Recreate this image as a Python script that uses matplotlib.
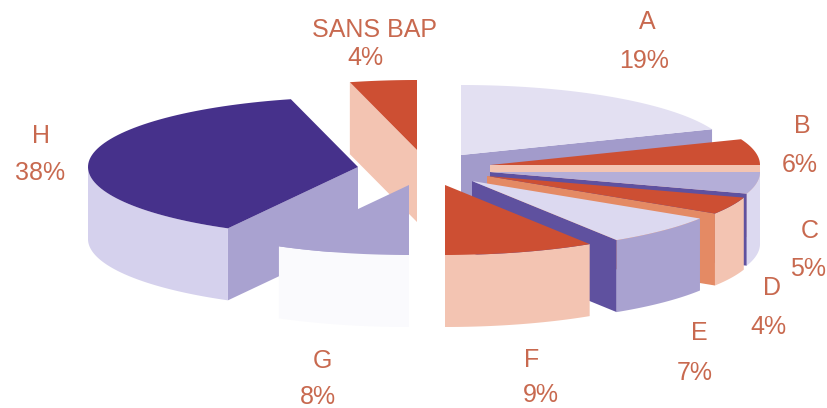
import numpy as np
import matplotlib
matplotlib.use("Agg")
import matplotlib.pyplot as plt

plt.rcParams['font.family'] = ['Liberation Sans', 'DejaVu Sans']

names = ['A', 'B', 'C', 'D', 'E', 'F', 'G', 'H', 'SANS BAP']
values = [19, 6, 5, 4, 7, 9, 8, 38, 4]

# slice apex in pixels (exploded pie, every slice moved by hand in the original)
apex = [(461, 155), (490, 165), (490, 172), (487, 176), (472, 181),
        (445, 185), (409, 185), (358, 167), (417, 150)]
top_col = ['#e3e0f2', '#cd4f33', '#b4aed8', '#cd4f33', '#dcd9f0',
           '#cd4f33', '#a9a2d0', '#46318b', '#cd4f33']
cut_col = ['#a29bcb', '#f3c4b2', '#5f519f', '#e48a64', '#5f519f',
           '#f3c4b2', '#a9a2d0', '#a9a2d0', '#f3c4b2']
rim_col = ['#dcd9f0', '#f3c4b2', '#dcd9f0', '#f3c4b2', '#a9a2d0',
           '#f3c4b2', '#fafafd', '#d5d1ed', '#f3c4b2']

# label positions, name then percent
name_pos = [(647, 22), (802, 126), (810, 231), (772, 288), (699, 333),
            (532, 360), (322, 361), (41, 136), (374, 30)]
pct_pos = [(644, 61), (800, 165), (808, 269), (768, 327), (695, 373),
           (541, 395), (318, 397), (40, 173), (365, 58)]

rx, ry = 270, 70
depth = 72
text_col = '#c8694f'

fig = plt.figure(figsize=(8.27, 4.08), dpi=100)
ax = fig.add_axes([0, 0, 1, 1])
ax.set_xlim(0, 827)
ax.set_ylim(408, 0)
ax.axis('off')


def arc(c, t0, t1):
    # t is clockwise from north, in degrees
    t = np.radians(np.linspace(t0, t1, 80))
    return c[0] + rx * np.sin(t), c[1] - ry * np.cos(t)


def cut(c, t, color):
    x, y = arc(c, t, t)
    ax.fill([c[0], x[0], x[0], c[0]], [c[1], y[0], y[0] + depth, c[1] + depth],
            color=color, lw=0)


edges = np.cumsum([0] + values) * 3.6
# back slices first, the left group goes H over the sans bap slice, then G
order = [0, 1, 2, 3, 4, 5, 8, 7, 6]
for i in order:
    c = apex[i]
    t0, t1 = edges[i], edges[i + 1]
    if t1 <= 180:
        cut(c, t1, cut_col[i])
    else:
        cut(c, t0, cut_col[i])
    a, b = max(t0, 90), min(t1, 270)
    if a < b:
        x, y = arc(c, a, b)
        ax.fill(np.r_[x, x[::-1]], np.r_[y, y[::-1] + depth], color=rim_col[i], lw=0)
    x, y = arc(c, t0, t1)
    ax.fill(np.r_[c[0], x], np.r_[c[1], y], color=top_col[i], lw=0)

for i in range(len(names)):
    ax.text(name_pos[i][0], name_pos[i][1], names[i], color=text_col, fontsize=18,
            ha='center', va='center')
    ax.text(pct_pos[i][0], pct_pos[i][1], '%d%%' % values[i], color=text_col, fontsize=18,
            ha='center', va='center')

fig.savefig('out.png', dpi=100)
